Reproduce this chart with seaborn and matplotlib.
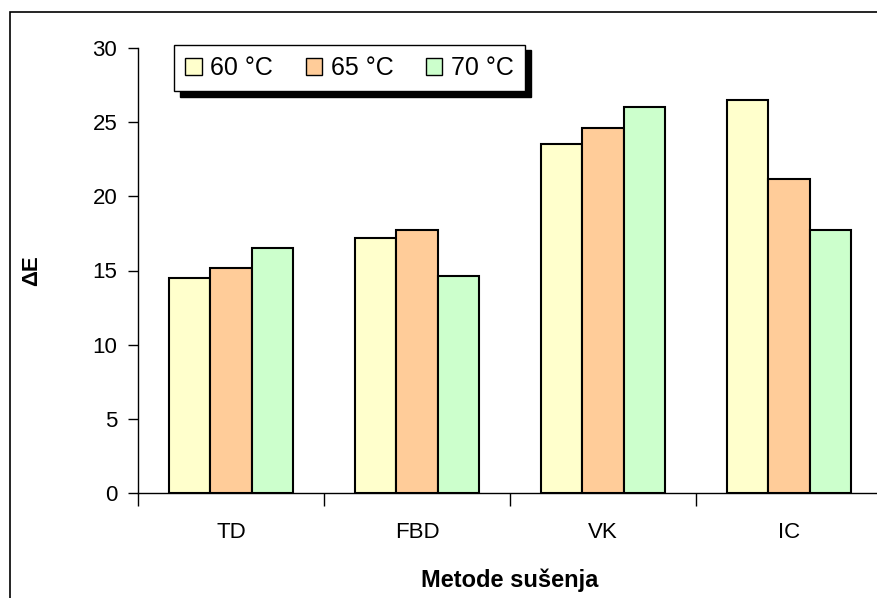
import seaborn as sns
import pandas as pd
import matplotlib.pyplot as plt
from matplotlib.patches import Rectangle
from matplotlib.ticker import MultipleLocator, FixedLocator

methods = ['TD', 'FBD', 'VK', 'IC']
temps = ['60 °C', '65 °C', '70 °C']
vals_60 = [14.5, 17.2, 23.5, 26.5]
vals_65 = [15.2, 17.7, 24.6, 21.2]
vals_70 = [16.5, 14.6, 26.0, 17.7]
colors = ['#FFFFCC', '#FFCC99', '#CCFFCC']


def build_frame():
    rows = []
    for t, vals in zip(temps, [vals_60, vals_65, vals_70]):
        for m, v in zip(methods, vals):
            rows.append({'Metoda': m, 'Temp': t, 'dE': v})
    return pd.DataFrame(rows)


def main():
    df = build_frame()
    sns.set_style('white')
    plt.rcParams['font.family'] = ['Liberation Sans', 'DejaVu Sans']
    plt.rcParams['text.color'] = 'black'
    plt.rcParams['axes.labelcolor'] = 'black'
    plt.rcParams['xtick.color'] = 'black'
    plt.rcParams['ytick.color'] = 'black'

    fig = plt.figure(figsize=(8.77, 5.98), dpi=100)
    W, H = 877, 598
    ax = fig.add_axes([138 / W, 1 - 493 / H, 744 / W, 445 / H])

    sns.barplot(data=df, x='Metoda', y='dE', hue='Temp', order=methods,
                hue_order=temps, palette=colors, saturation=1, width=0.67, gap=0,
                edgecolor='black', linewidth=1.5, ax=ax, legend=True)

    ax.set_ylim(0, 30)
    ax.set_xlim(-0.5, 3.5)
    ax.yaxis.set_major_locator(MultipleLocator(5))
    ax.tick_params(axis='y', length=7, width=1, direction='out', labelsize=16,
                   left=True, pad=8)
    ax.xaxis.set_minor_locator(FixedLocator([-0.5, 0.5, 1.5, 2.5]))
    ax.tick_params(axis='x', which='major', length=0, labelsize=16, pad=21)
    ax.tick_params(axis='x', which='minor', length=9, width=1, bottom=True,
                   direction='out')
    for s in ['top', 'right']:
        ax.spines[s].set_visible(False)
    for s in ['left', 'bottom']:
        ax.spines[s].set_color('black')
        ax.spines[s].set_linewidth(1)

    ax.set_xlabel('Metode sušenja', fontsize=17, fontweight='bold', labelpad=18)
    ax.set_ylabel('ΔE', fontsize=16, fontweight='bold', labelpad=36)

    leg = ax.legend(ncol=3, loc='upper left', bbox_to_anchor=(36 / 744, 1.007),
                    fontsize=18, frameon=True, fancybox=False, edgecolor='black',
                    framealpha=1, shadow={'color': 'black', 'alpha': 1, 'ox': 4, 'oy': -4},
                    handlelength=0.65, handleheight=0.65, handletextpad=0.35,
                    columnspacing=1.3, borderpad=0.45, borderaxespad=0)
    leg.get_frame().set_linewidth(1)
    for h in leg.legend_handles:
        h.set_edgecolor('black')
        h.set_linewidth(1)

    # outer frame of the original chart, cut off at right and bottom
    fig.patches.append(Rectangle((10 / W, -0.1), 2, 1.1 - 12 / H, transform=fig.transFigure,
                                 fill=False, edgecolor='black', linewidth=1.2))

    fig.savefig('out.png', dpi=100)


if __name__ == '__main__':
    main()
